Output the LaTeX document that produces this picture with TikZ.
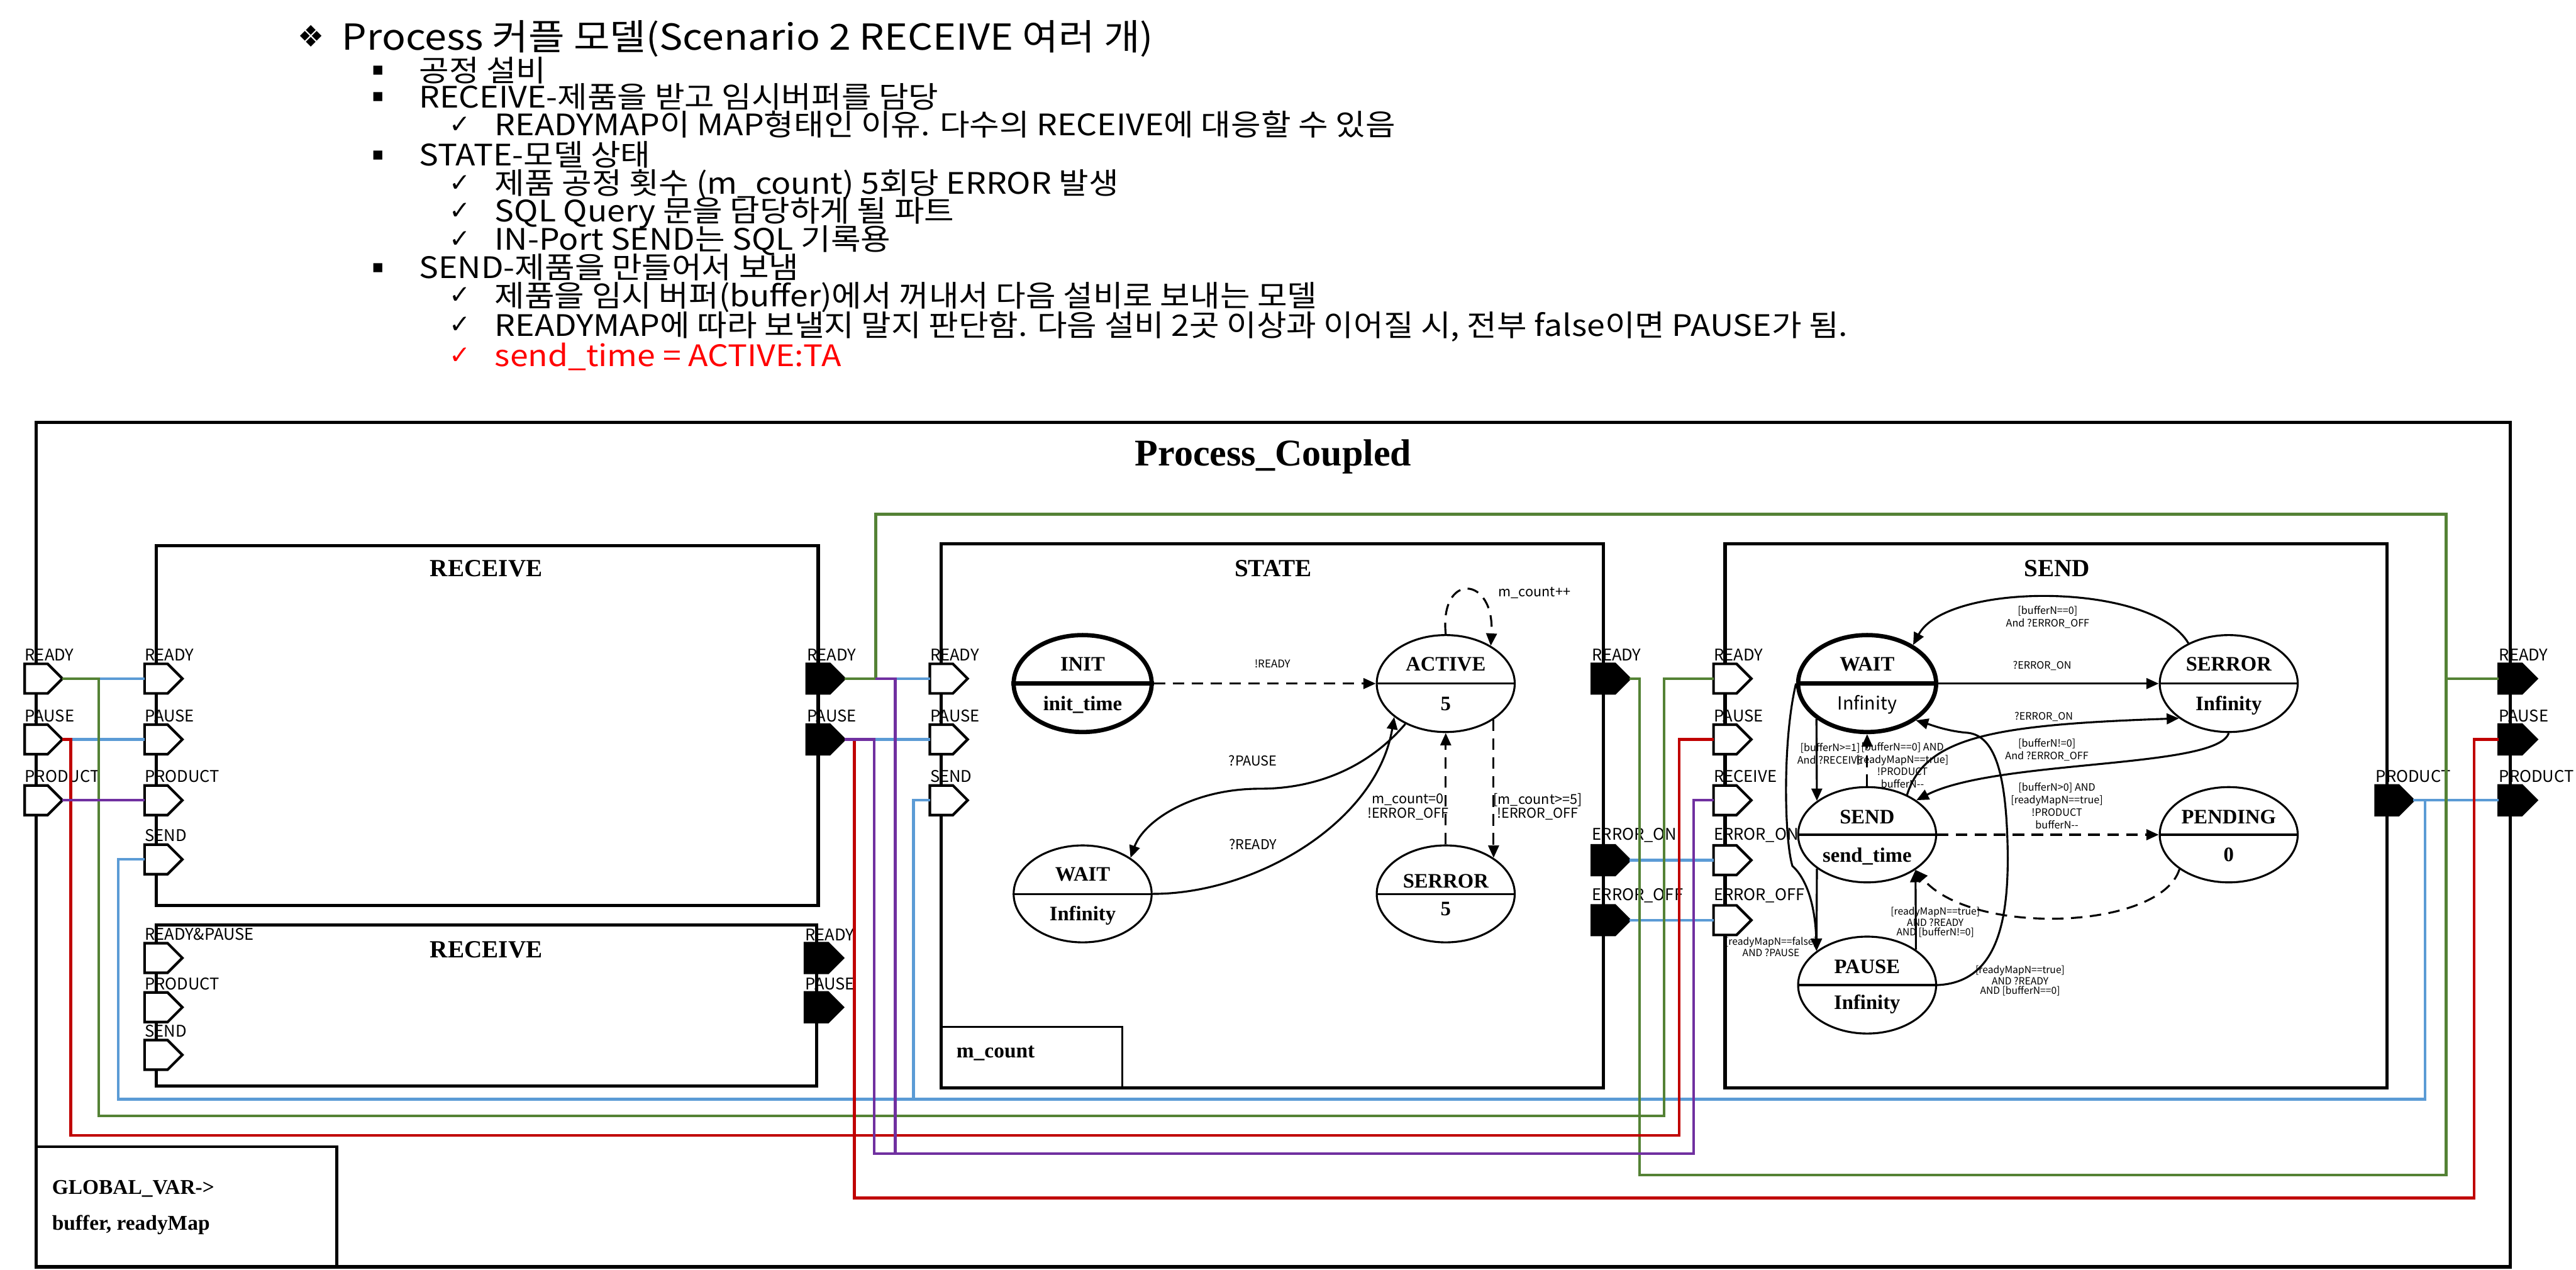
\documentclass[tikz,border=0pt]{standalone}
\usepackage{fontspec}
\setmainfont{Liberation Serif}
\newfontfamily\kr{Noto Sans CJK KR}
\newfontfamily\krw[FakeStretch=1.1]{Noto Sans CJK KR}
\newfontfamily\sym{DejaVu Sans}
\usepackage{tikz}
\usetikzlibrary{arrows.meta,shapes.geometric,shapes.symbols}
\definecolor{wgreen}{RGB}{84,130,53}
\definecolor{wblue}{RGB}{91,155,213}
\definecolor{wred}{RGB}{192,0,0}
\definecolor{wpurple}{RGB}{112,48,160}

\begin{document}
\begin{tikzpicture}[x=1pt,y=-1pt,
  blk/.style={draw,line width=2pt},
  ttl/.style={font=\bfseries\fontsize{15}{15}\selectfont,inner sep=0pt},
  inp/.style={signal,signal to=east,draw,line width=1.6pt,fill=white,minimum width=23pt,minimum height=18pt,inner sep=0pt,outer sep=0pt},
  outp/.style={inp,fill=black},
  plab/.style={anchor=south west,inner sep=0pt,yshift=1.5pt,font=\kr\fontsize{9.8}{9.8}\selectfont},
  bw/.style={draw=wblue,line width=1.7pt},
  gw/.style={draw=wgreen,line width=1.7pt},
  rw/.style={draw=wred,line width=1.7pt},
  pw/.style={draw=wpurple,line width=1.7pt},
  st/.style={ellipse,draw,line width=1.2pt,minimum width=84pt,minimum height=59pt,inner sep=0pt},
  nm/.style={font=\bfseries\fontsize{12.5}{12.5}\selectfont,inner sep=0pt,text height=8.5pt,text depth=0pt},
  tr/.style={line width=1.2pt,-{Triangle[length=7.5pt,width=6.5pt]}},
  dtr/.style={tr,dash pattern=on 7pt off 4.5pt},
  tls/.style={font=\kr\fontsize{6.5}{7}\selectfont,inner sep=0pt},
  tlm/.style={font=\kr\fontsize{8.3}{8.6}\selectfont,inner sep=0pt,align=center},
  tlsm/.style={font=\kr\fontsize{6.2}{7.6}\selectfont,inner sep=0pt,align=center},
  tlc/.style={font=\kr\fontsize{6}{4.8}\selectfont,inner sep=0pt,align=center},
  hd/.style={font=\krw\fontsize{21.8}{21.8}\selectfont,inner sep=0pt,anchor=base west},
  bd/.style={font=\krw\fontsize{18}{18}\selectfont,inner sep=0pt,anchor=base west},
  bu/.style={font=\sym\fontsize{11}{11}\selectfont,inner sep=0pt},
  ck/.style={font=\sym\fontsize{15.5}{15.5}\selectfont,inner sep=0pt}]
\useasboundingbox (0,0) rectangle (1568,772.7);

% notes on top
\node[font=\sym\fontsize{18}{18}\selectfont,inner sep=0pt] (tS) at (189.5,22) {❖};
\node[hd] (tT) at (208,30.5) {Process 커플 모델(Scenario 2 RECEIVE 여러 개)};
\foreach \n/\y in {b1/43,b2/59,b3/94.6,b4/163}
  \node[bu] (\n) at (230,\y) {▪};
\foreach \n/\y in {c1/76,c2/111.6,c3/128.6,c4/145.6,c5/180,c6/198}
  \node[ck] (\n) at (280,\y) {✓};
\node[ck,text=red] (c7) at (280,216.5) {✓};
\node[bd] (t1) at (255,49.5) {공정 설비};
\node[bd] (t2) at (255,65.5) {RECEIVE-제품을 받고 임시버퍼를 담당};
\node[bd] (t3) at (301,82.5) {READYMAP이 MAP형태인 이유. 다수의 RECEIVE에 대응할 수 있음};
\node[bd] (t4) at (255,101) {STATE-모델 상태};
\node[bd] (t5) at (301,118) {제품 공정 횟수 (m\_count) 5회당 ERROR 발생};
\node[bd] (t6) at (301,135) {SQL Query 문을 담당하게 될 파트};
\node[bd] (t7) at (301,152) {IN-Port SEND는 SQL 기록용};
\node[bd] (t8) at (255,169.5) {SEND-제품을 만들어서 보냄};
\node[bd] (t9) at (301,186.5) {제품을 임시 버퍼(buffer)에서 꺼내서 다음 설비로 보내는 모델};
\node[bd] (t10) at (301,204.5) {READYMAP에 따라 보낼지 말지 판단함. 다음 설비 2곳 이상과 이어질 시, 전부 false이면 PAUSE가 됨.};
\node[bd,text=red] (t11) at (301,223) {send\_time = ACTIVE:TA};

% blocks
\draw[blk] (22,257) rectangle (1528,771);
\node[font=\bfseries\fontsize{23}{23}\selectfont,inner sep=0pt] (pc) at (775,278) {Process\_Coupled};
\draw[blk] (95,332) rectangle (498,551);
\node[ttl] (rc1) at (296,346) {RECEIVE};
\draw[blk] (95,563) rectangle (497,661);
\node[ttl] (rc2) at (296,578) {RECEIVE};
\draw[blk] (573,331) rectangle (976,662);
\node[ttl] (sta) at (775,346) {STATE};
\draw[blk] (1050,331) rectangle (1453,662);
\node[ttl] (snd) at (1252,346) {SEND};
\draw[line width=1.2pt] (573,625) -| (683,662);
\node[font=\bfseries\fontsize{12.8}{12.8}\selectfont,anchor=west,inner sep=0pt] (mc) at (582,641) {m\_count};
\draw[line width=1.6pt] (22,698) -| (205,771);
\node[font=\bfseries\fontsize{12.8}{12.8}\selectfont,anchor=west,inner sep=0pt] (gv1) at (31.5,723.4) {GLOBAL\_VAR->};
\node[font=\bfseries\fontsize{12.8}{12.8}\selectfont,anchor=west,inner sep=0pt] (gv2) at (31.5,745.4) {buffer, readyMap};

% wire corners
\coordinate (jR) at (60,413);
\coordinate (jP) at (43,450);
\coordinate (jRR) at (545,413);
\coordinate (jPP) at (532,450);
\coordinate (jG) at (533,413);
\coordinate (jPr) at (520,450);
\coordinate (jGo) at (1489,413);
\coordinate (jDo) at (1476,487);

% ports
\foreach \n/\x/\y/\t in {oR/22/413/READY, oP/22/450/PAUSE, oD/22/487/PRODUCT,
    aR/95/413/READY, aP/95/450/PAUSE, aD/95/487/PRODUCT, aS/95/523/SEND,
    bRP/95/583/READY\&PAUSE, bD/95/613/PRODUCT, bS/95/642/SEND,
    cR/573/413/READY, cP/573/450/PAUSE, cS/573/487/SEND,
    dR/1050/413/READY, dP/1050/450/PAUSE, dRc/1050/487/RECEIVE,
    dEon/1050/523.5/ERROR\_ON, dEoff/1050/560/ERROR\_OFF}{
  \node[inp] (\n) at (\x,\y) {};
  \node[plab] (l\n) at (\n.north west) {\t};}
\foreach \n/\x/\y/\t in {aRo/498/413/READY, aPo/498/450/PAUSE,
    bRo/497/583/READY, bPo/497/613/PAUSE,
    cRo/976/413/READY, cEon/976/523.5/ERROR\_ON, cEoff/976/560/ERROR\_OFF,
    dDo/1453/487/PRODUCT,
    oRo/1528/413/READY, oPo/1528/450/PAUSE, oDo/1528/487/PRODUCT}{
  \node[outp] (\n) at (\x,\y) {};
  \node[plab] (l\n) at (\n.north west) {\t};}

% couplings
\draw[bw] (jR) -- (aR.west);
\draw[bw] (jP) -- (aP.west);
\draw[bw] (aS.west) -| (72,669) -| (jDo);
\draw[bw] (dDo.east) -- (oDo.west);
\draw[bw] (cS.west) -| (556,669);
\draw[bw] (jRR) -- (cR.west);
\draw[bw] (jPP) -- (cP.west);
\draw[bw] (cEon.east) -- (dEon.west);
\draw[bw] (cEoff.east) -- (dEoff.west);
\draw[gw] (oR.east) -| (60,679) -| (1013,413) -- (dR.west);
\draw[gw] (aRo.east) -| (533,313) -| (1489,715) -| (998,413) -- (cRo.east);
\draw[gw] (jGo) -- (oRo.west);
\draw[rw] (oP.east) -| (43,691) -| (1022,450) -- (dP.west);
\draw[rw] (jPr) |- (1506,729) |- (oPo.west);
\draw[pw] (oD.east) -- (aD.west);
\draw[pw] (aPo.east) -| (532,702) -| (1031,487) -- (dRc.west);
\draw[pw] (jG) -| (545,702);

% STATE machine
\node[st,line width=2.6pt] (init) at (659,416) {};
\draw[line width=2.6pt] (init.west) -- (init.east);
\node[nm] (initA) at (659,404) {INIT};
\node[nm] (initB) at (659,428) {init\_time};
\node[st] (act) at (880,416) {};
\draw[line width=1.2pt] (act.west) -- (act.east);
\node[nm] (actA) at (880,404) {ACTIVE};
\node[nm] (actB) at (880,428) {5};
\node[st] (wt) at (659,544) {};
\draw[line width=1.2pt] (wt.west) -- (wt.east);
\node[nm] (wtA) at (659,532) {WAIT};
\node[nm] (wtB) at (659,556) {Infinity};
\node[st] (ser) at (880,544) {};
\draw[line width=1.2pt] (ser.west) -- (ser.east);
\node[nm] (serA) at (880,536) {SERROR};
\node[nm] (serB) at (880,553) {5};
\draw[dtr] (init.east) -- (act.west);
\node[tls] (lRdy) at (774.5,404) {!READY};
\draw[dtr] (act.north) .. controls (876,348) and (910,350) .. (act.40);
\node[tlm] (lInc) at (934,360.6) {m\_count++};
\draw[tr] (act.225) .. controls (832,468) and (800,480) .. (767,480) .. controls (725,480) and (696,500) .. (wt.37);
\node[tlm] (lPau) at (762.6,463) {?PAUSE};
\draw[tr] (wt.east) .. controls (765,544) and (838,500) .. (act.213);
\node[tlm] (lRd2) at (762.6,514) {?READY};
\draw[dtr] (ser.north) -- (act.south);
\node[tlm] (lZero) at (857,491) {m\_count=0\\!ERROR\_OFF};
\draw[dtr] (act.-37) -- (ser.37);
\node[tlm] (lFive) at (936,491) {[m\_count>=5]\\!ERROR\_OFF};

% SEND machine
\node[st,line width=2.6pt] (sw) at (1136.5,416) {};
\draw[line width=2.6pt] (sw.west) -- (sw.east);
\node[nm] (swA) at (1136.5,404) {WAIT};
\node[font=\kr\fontsize{11}{11}\selectfont,inner sep=0pt,text height=8pt,text depth=0pt] (swB) at (1136.5,428) {Infinity};
\node[st] (se) at (1356.6,416) {};
\draw[line width=1.2pt] (se.west) -- (se.east);
\node[nm] (seA) at (1356.6,404) {SERROR};
\node[nm] (seB) at (1356.6,428) {Infinity};
\node[st,minimum height=58pt] (ss) at (1136.5,508) {};
\draw[line width=1.2pt] (ss.west) -- (ss.east);
\node[nm] (ssA) at (1136.5,497) {SEND};
\node[nm] (ssB) at (1136.5,520.5) {send\_time};
\node[st,minimum height=58pt] (pd) at (1356.6,508) {};
\draw[line width=1.2pt] (pd.west) -- (pd.east);
\node[nm] (pdA) at (1356.6,497) {PENDING};
\node[nm] (pdB) at (1356.6,520) {0};
\node[st] (ps) at (1136.5,599.5) {};
\draw[line width=1.2pt] (ps.west) -- (ps.east);
\node[nm] (psA) at (1136.5,588) {PAUSE};
\node[nm] (psB) at (1136.5,610) {Infinity};
\draw[tr] (se.135) .. controls (1310,354) and (1185,354) .. (sw.40);
\node[tlsm] (l1) at (1246.4,375.6) {[bufferN==0]\\And ?ERROR\_OFF};
\draw[tr] (sw.east) -- (se.west);
\node[tlsm] (l2) at (1243,405.2) {?ERROR\_ON};
\draw[tr] (ss.45) .. controls (1172,448) and (1215,441) .. (se.215);
\node[tlsm] (l3) at (1244,436.3) {?ERROR\_ON};
\draw[tr] (se.south) .. controls (1350,468) and (1215,462) .. (ss.35);
\node[tlsm] (l4) at (1245.9,456.5) {[bufferN!=0]\\And ?ERROR\_OFF};
\draw[tr] (sw.215) -- (ss.146);
\node[tlsm] (l5) at (1114,458.5) {[bufferN>=1]\\And ?RECEIVE};
\draw[dtr] (ss.north) -- (sw.south);
\node[tlsm] (l6) at (1158,465.7) {[bufferN==0] AND\\{}[readyMapN==true]\\!PRODUCT\\bufferN-{}-};
\draw[dtr] (ss.east) -- (pd.west);
\node[tlsm] (l7) at (1252,490.5) {[bufferN>0] AND\\{}[readyMapN==true]\\!PRODUCT\\bufferN-{}-};
\draw[dtr] (pd.215) .. controls (1315,566) and (1200,570) .. (ss.-36);
\draw[tr] (ps.36) -- (ss.-36);
\node[tlc] (l9) at (1178,561.2) {[readyMapN==true]\\AND ?READY\\AND [bufferN!=0]};
\draw[tr] (ss.214) -- (ps.146);
\draw[tr] (sw.west) .. controls (1085,450) and (1086,510) .. (1091,527) .. controls (1100,535) and (1105,552) .. (ps.146);
\node[tlc] (l11) at (1078,576.2) {[readyMapN==false]\\AND ?PAUSE};
\draw[tr] (ps.east) .. controls (1216,598) and (1223,560) .. (1222,515) .. controls (1221,470) and (1214,448) .. (1198,446) .. controls (1185,445) and (1175,441) .. (sw.-37);
\node[tlc] (l12) at (1229.6,596.8) {[readyMapN==true]\\AND ?READY\\AND [bufferN==0]};
\end{tikzpicture}
\end{document}
